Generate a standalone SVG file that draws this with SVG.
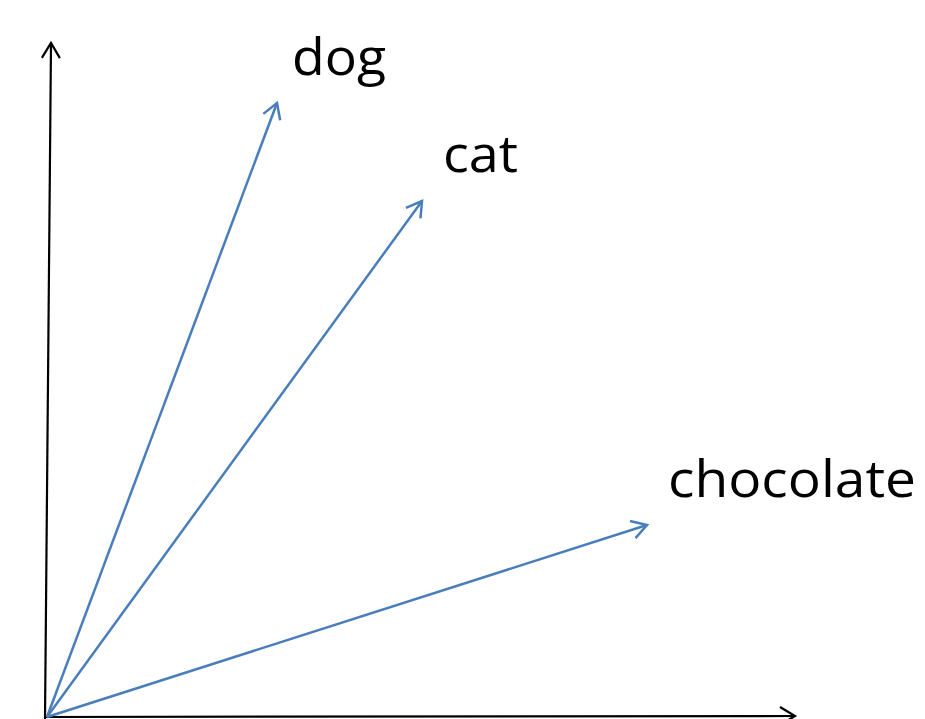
<svg xmlns="http://www.w3.org/2000/svg" width="925" height="719" viewBox="0 0 925 719">
<style>
.axis{stroke:#000;stroke-width:2.2;fill:none}
.vec{stroke:#4a7ebb;stroke-width:2.5;fill:none}
.lbl{font-family:"Open Sans","Liberation Sans",sans-serif;font-size:52px;fill:#000}
</style>
<defs>
<marker id="ah-black" markerUnits="userSpaceOnUse" markerWidth="30" markerHeight="30" viewBox="-20 -15 30 30" refX="0" refY="0" orient="auto">
<path d="M -15 -9 L 0 0 L -15 9" fill="none" stroke="#000" stroke-width="2.2"/>
</marker>
<marker id="ah-blue" markerUnits="userSpaceOnUse" markerWidth="30" markerHeight="30" viewBox="-20 -15 30 30" refX="0" refY="0" orient="auto">
<path d="M -15 -9 L 0 0 L -15 9" fill="none" stroke="#4a7ebb" stroke-width="2.5"/>
</marker>
</defs>
<rect width="925" height="719" fill="#fff"/>
<g id="connectors">
<line class="axis" x1="45" y1="719" x2="51" y2="43" marker-end="url(#ah-black)"/>
<line class="axis" x1="45" y1="717" x2="795" y2="716" marker-end="url(#ah-black)"/>
<line class="vec" x1="47" y1="717" x2="277" y2="103" marker-end="url(#ah-blue)"/>
<line class="vec" x1="47" y1="717" x2="422" y2="201" marker-end="url(#ah-blue)"/>
<line class="vec" x1="47" y1="717" x2="647" y2="525" marker-end="url(#ah-blue)"/>
</g>
<g id="dog"><text class="lbl" x="292" y="75" textLength="94" lengthAdjust="spacingAndGlyphs">dog</text></g>
<g id="cat"><text class="lbl" x="443" y="172" textLength="75" lengthAdjust="spacingAndGlyphs">cat</text></g>
<g id="chocolate"><text class="lbl" x="668" y="497" textLength="248" lengthAdjust="spacingAndGlyphs">chocolate</text></g>
</svg>
